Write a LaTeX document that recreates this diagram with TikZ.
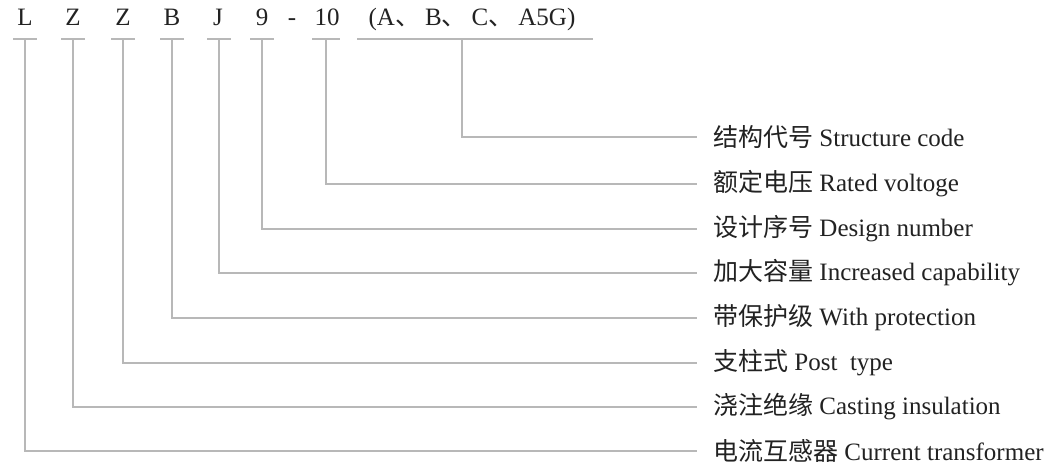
\documentclass[tikz,border=0pt]{standalone}
\usepackage{fontspec}
\setmainfont{Liberation Serif}
\newfontfamily\cjk{Noto Sans CJK SC}
\definecolor{txt}{HTML}{222222}
\definecolor{ln}{HTML}{B8B8B8}
\begin{document}
\begin{tikzpicture}[x=1pt,y=-1pt,
  code/.style={anchor=base, inner sep=0pt, font=\fontsize{25}{30}\selectfont, text=txt},
  lab/.style={anchor=west, inner sep=0pt, font=\fontsize{25}{30}\selectfont, text=txt},
  wire/.style={draw=ln, line width=1.4pt},
]
\useasboundingbox[fill=white] (0,0) rectangle (1060,473);
% code letters
\node[code] (cL)  at (25,26)  {L};
\node[code] (cZ1) at (73,26)  {Z};
\node[code] (cZ2) at (123,26) {Z};
\node[code] (cB)  at (172,26) {B};
\node[code] (cJ)  at (218,26) {J};
\node[code] (c9)  at (262,26) {9};
\node[code] (cD)  at (292,26) {-};
\node[code] (c10) at (327,26) {10};
\node[code] (cS)  at (472,26) {(A{\cjk 、}\hspace{5pt}B{\cjk 、}\hspace{5pt}C{\cjk 、}\hspace{5pt}A5G)};
% bar centres
\coordinate (bL)  at (25,39);
\coordinate (bZ1) at (73,39);
\coordinate (bZ2) at (123,39);
\coordinate (bB)  at (172,39);
\coordinate (bJ)  at (219,39);
\coordinate (b9)  at (262,39);
\coordinate (b10) at (326,39);
\coordinate (bS)  at (462,39);
\foreach \c in {bL,bZ1,bZ2,bB,bJ,b9}
  \draw[wire] ([xshift=-12pt]\c) -- ([xshift=12pt]\c);
\draw[wire] ([xshift=-14pt]b10) -- ([xshift=14pt]b10);
\draw[wire] ([xshift=-105pt]bS) -- ([xshift=131pt]bS);
% labels
\node[lab] (lS)  at (713,137) {{\cjk 结构代号} Structure code};
\node[lab] (l10) at (713,184) {{\cjk 额定电压} Rated voltoge};
\node[lab] (l9)  at (713,229) {{\cjk 设计序号} Design number};
\node[lab] (lJ)  at (713,273) {{\cjk 加大容量} Increased capability};
\node[lab] (lB)  at (713,318) {{\cjk 带保护级} With protection};
\node[lab] (lZ2) at (713,363) {{\cjk 支柱式} Post~~type};
\node[lab] (lZ1) at (713,407) {{\cjk 浇注绝缘} Casting insulation};
\node[lab] (lL)  at (713,451) {{\cjk 电流互感器} Current transformer};
% connectors
\draw[wire] (bS)  |- ([xshift=-16pt]lS.west);
\draw[wire] (b10) |- ([xshift=-16pt]l10.west);
\draw[wire] (b9)  |- ([xshift=-16pt]l9.west);
\draw[wire] (bJ)  |- ([xshift=-16pt]lJ.west);
\draw[wire] (bB)  |- ([xshift=-16pt]lB.west);
\draw[wire] (bZ2) |- ([xshift=-16pt]lZ2.west);
\draw[wire] (bZ1) |- ([xshift=-16pt]lZ1.west);
\draw[wire] (bL)  |- ([xshift=-16pt]lL.west);
\end{tikzpicture}
\end{document}
